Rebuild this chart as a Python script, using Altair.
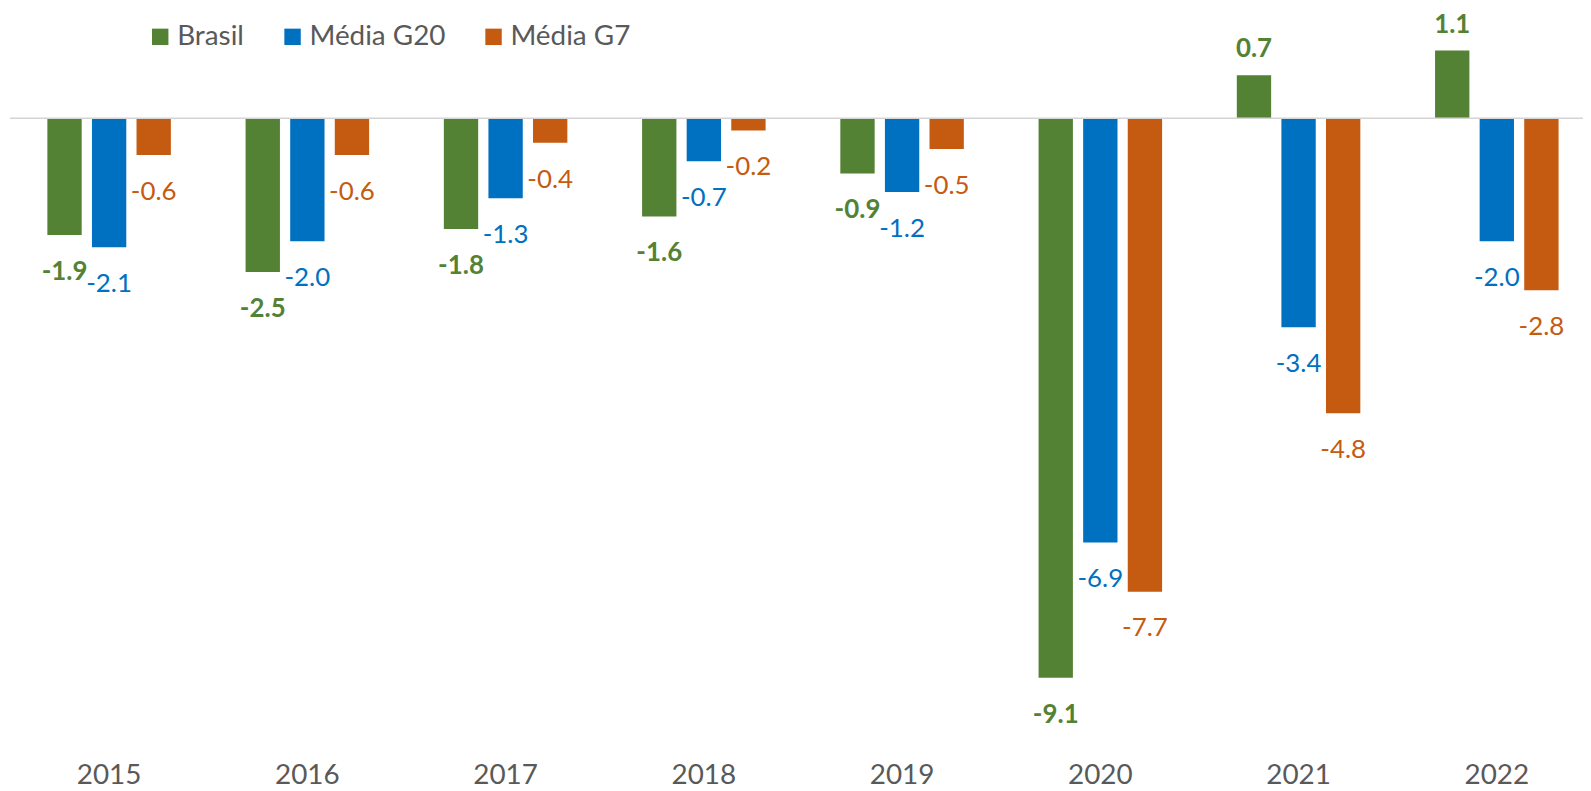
import altair as alt
import pandas as pd

years = ["2015", "2016", "2017", "2018", "2019", "2020", "2021", "2022"]
series_names = ["Brasil", "Média G20", "Média G7"]
brasil = [-1.9, -2.5, -1.8, -1.6, -0.9, -9.1, 0.7, 1.1]
g20 = [-2.1, -2.0, -1.3, -0.7, -1.2, -6.9, -3.4, -2.0]
g7 = [-0.6, -0.6, -0.4, -0.2, -0.5, -7.7, -4.8, -2.8]
colors = ["#548235", "#0070C0", "#C55A11"]

rows = []
for name, vals in zip(series_names, [brasil, g20, g7]):
    for y, v in zip(years, vals):
        rows.append({"year": y, "series": name, "value": v, "label": f"{v:.1f}"})
df = pd.DataFrame(rows)

FONT = "Lato"
Y_DOMAIN = [-10, 1.76]

x_enc = alt.X(
    "year:O",
    sort=years,
    scale=alt.Scale(paddingInner=0, paddingOuter=0),
    axis=alt.Axis(
        title=None, domain=False, ticks=False, labelAngle=0,
        labelFont=FONT, labelFontSize=28, labelColor="#595959",
        labelPadding=43, labelBaseline="middle",
    ),
)
xoff_enc = alt.XOffset(
    "series:N", sort=series_names,
    scale=alt.Scale(domain=series_names, paddingInner=0.23, paddingOuter=0.838),
)
y_enc = alt.Y("value:Q", scale=alt.Scale(domain=Y_DOMAIN, nice=False, zero=False), axis=None)

base = alt.Chart(df)

bars = base.mark_bar().encode(
    x=x_enc,
    xOffset=xoff_enc,
    y=y_enc,
    y2=alt.datum(0),
    color=alt.Color(
        "series:N",
        sort=series_names,
        scale=alt.Scale(domain=series_names, range=colors),
        legend=alt.Legend(
            orient="none", legendX=137, legendY=13, direction="horizontal",
            title=None, symbolType="square", symbolSize=272,
            labelFont=FONT, labelFontSize=28, labelColor="#595959",
            labelOffset=3, columnPadding=34, symbolStrokeWidth=0,
            symbolOpacity=1, padding=0,
        ),
    ),
)

layers = [bars]
for name, col in zip(series_names, colors):
    weight = "bold" if name == "Brasil" else "normal"
    for positive in (False, True):
        cond = f"datum.series == '{name}' && datum.value {'>=' if positive else '<'} 0"
        t = base.transform_filter(cond).mark_text(
            font=FONT, fontSize=26, fontWeight=weight, color=col,
            baseline="middle", align="center", dy=(-26 if positive else 37),
        ).encode(x=x_enc, xOffset=xoff_enc, y=y_enc, text="label:N")
        layers.append(t)

zero = alt.Chart(pd.DataFrame({"z": [0]})).mark_rule(color="#d4d4d4", strokeWidth=1.5).encode(
    y=alt.Y("z:Q", scale=alt.Scale(domain=Y_DOMAIN, nice=False, zero=False), axis=None)
)
layers.append(zero)

chart = alt.layer(*layers).properties(
    width=1594,
    height=726.8,
    padding={"left": 2, "top": 0, "right": -13, "bottom": 56},
    autosize=alt.AutoSizeParams(type="none"),
).configure_view(stroke=None)

chart.save("out.html", embed_options={"renderer": "svg", "actions": False})
